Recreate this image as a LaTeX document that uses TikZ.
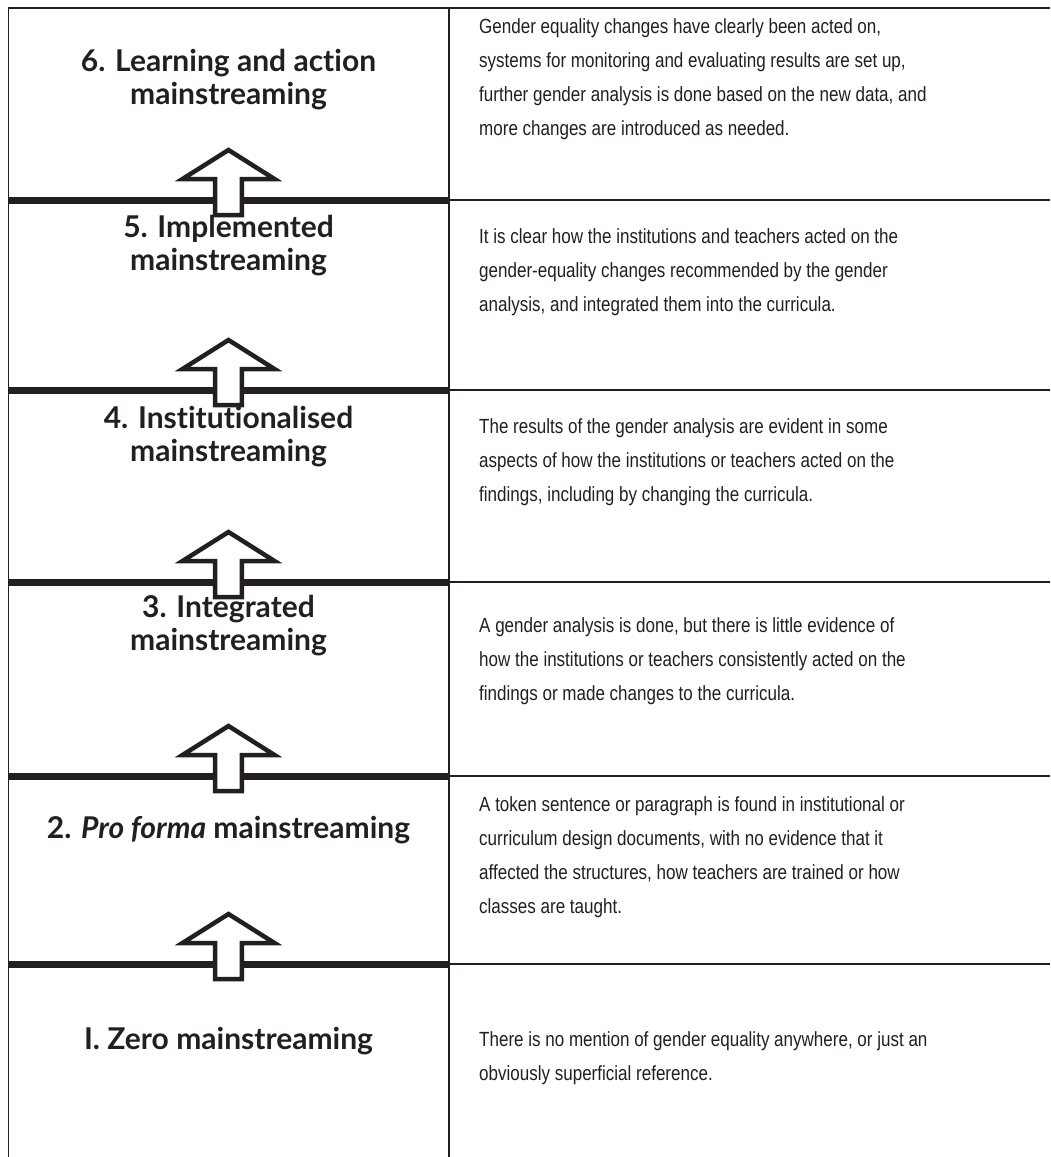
\documentclass[tikz,border=0pt]{standalone}
\usepackage{fontspec}
\newfontfamily\headfont{Lato}[Ligatures={NoCommon}]
\newfontfamily\bodyfont{Liberation Sans}[FakeStretch=0.83]
\definecolor{ink}{RGB}{35,31,32}
\newcommand\tee{\mbox{t}}
\begin{document}
\begin{tikzpicture}[x=1pt,y=-1pt,
  thinrule/.style={draw=ink,line width=2pt},
  thickrule/.style={draw=ink,line width=7pt},
  uparrow/.style={draw=ink,fill=white,line width=4.5pt,miter limit=10},
  heading/.style={font=\headfont\bfseries\fontsize{30}{33}\selectfont,text=ink,align=center,inner sep=0pt},
  desc/.style={font=\bodyfont\fontsize{20.5}{34}\selectfont,text=ink,align=left,anchor=west,inner sep=0pt}]
\useasboundingbox (0,0) rectangle (1050,1157);
\fill[white] (0,0) rectangle (1050,1157);
% frame
\draw[thinrule] (8,8) -- (1050,8);
\draw[draw=ink,line width=1.8pt] (8.5,7) -- (8.5,1157);
\draw[draw=ink,line width=2.5pt] (449,7) -- (449,1157);
% row rules and arrows
\foreach \y in {200,390,582,776,964}{
  \draw[thinrule] (449,\y) -- (1050,\y);
  \draw[thickrule] (8,\y) -- (449,\y);
  \begin{scope}[shift={(0,\y)}]
    \draw[uparrow] (228.5,-50) -- (274.5,-21) -- (241.8,-21) -- (241.8,15)
      -- (215.2,15) -- (215.2,-21) -- (182.5,-21) -- cycle;
  \end{scope}
}
% headings
\node[heading] (h6) at (228.5,80) {6. Learning and ac\tee ion\\mainstreaming};
\node[heading] (h5) at (228.5,246) {5. Implemented\\mainstreaming};
\node[heading] (h4) at (228.5,437) {4. Insti\tee u\tee ionalised\\mainstreaming};
\node[heading] (h3) at (228.5,626) {3. Integrated\\mainstreaming};
\node[heading] (h2) at (228.5,830) {2. \textit{Pro forma} mainstreaming};
\node[heading] (h1) at (228.5,1041) {I. Zero mainstreaming};
% descriptions
\node[desc] (d6) at (479,79) {Gender equality changes have clearly been acted on,\\systems for monitoring and evaluating results are set up,\\further gender analysis is done based on the new data, and\\more changes are introduced as needed.};
\node[desc] (d5) at (479,272) {It is clear how the institutions and teachers acted on the\\gender-equality changes recommended by the gender\\analysis, and integrated them into the curricula.};
\node[desc] (d4) at (479,462) {The results of the gender analysis are evident in some\\aspects of how the institutions or teachers acted on the\\findings, including by changing the curricula.};
\node[desc] (d3) at (479,661) {A gender analysis is done, but there is little evidence of\\how the institutions or teachers consistently acted on the\\findings or made changes to the curricula.};
\node[desc] (d2) at (479,857) {A token sentence or paragraph is found in institutional or\\curriculum design documents, with no evidence that it\\affected the structures, how teachers are trained or how\\classes are taught.};
\node[desc] (d1) at (479,1058) {There is no mention of gender equality anywhere, or just an\\obviously superficial reference.};
\end{tikzpicture}
\end{document}
